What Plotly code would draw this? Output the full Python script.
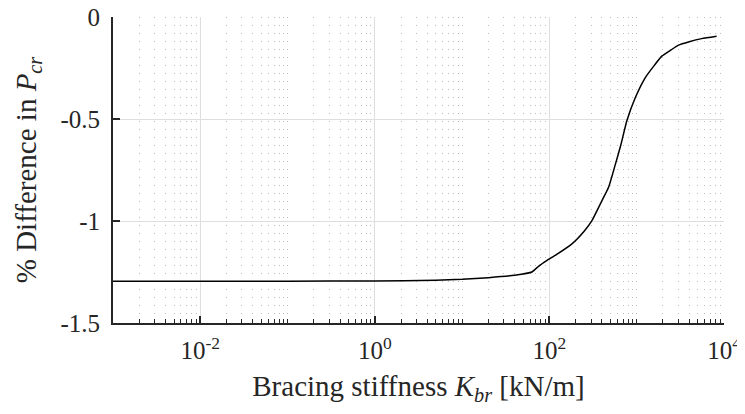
import plotly.graph_objects as go

# Data
k_br = [0.001, 0.01, 0.1, 1, 5, 10, 20, 40, 63, 75, 94, 120, 181, 250, 307, 400, 476, 567, 660, 771,
        962, 1250, 1600, 1937, 2500, 3006, 4000, 5546, 8225]
diff_pcr = [-1.295, -1.295, -1.295, -1.294, -1.290, -1.286, -1.278, -1.266, -1.250, -1.222, -1.193, -1.165,
            -1.112, -1.050, -0.998, -0.900, -0.835, -0.725, -0.625, -0.509, -0.396, -0.298, -0.236, -0.192,
            -0.160, -0.138, -0.121, -0.106, -0.094]

x_major = [1e-2, 1e0, 1e2, 1e4]
x_major_text = ["10<sup>-2</sup>", "10<sup>0</sup>", "10<sup>2</sup>", "10<sup>4</sup>"]
y_ticks = [0, -0.5, -1, -1.5]
y_tick_text = ["0", "-0.5", "-1", "-1.5"]

x_minor = []
for e in range(-3, 4):
    for m in range(1, 10):
        v = m * 10 ** e
        if v not in x_major:
            x_minor.append(v)

font_family = "Liberation Serif"
ink = "#262626"

fig = go.Figure()
fig.add_trace(go.Scatter(x=k_br, y=diff_pcr, mode="lines",
                         line=dict(color="black", width=1.5, shape="spline", smoothing=0.5),
                         showlegend=False))

fig.update_layout(
    width=737, height=398,
    margin=dict(l=105, r=21, t=9, b=83),
    paper_bgcolor="white", plot_bgcolor="white",
    font=dict(family=font_family, size=25, color=ink),
    xaxis=dict(
        type="log", range=[-3, 4], automargin=False,
        tickmode="array", tickvals=x_major, ticktext=x_major_text,
        ticks="inside", ticklen=7, tickwidth=1.5, tickcolor=ink,
        showline=True, linecolor=ink, linewidth=2,
        showgrid=True, gridcolor="#dedede", gridwidth=1,
        zeroline=False, ticklabelstandoff=4, ticklabeloverflow="allow",
        tickfont=dict(family=font_family, size=25, color=ink),
        minor=dict(tickmode="array", tickvals=x_minor, ticks="inside", ticklen=4,
                   tickcolor=ink, tickwidth=1,
                   showgrid=True, gridcolor="#bdbdbd", gridwidth=1, griddash="1px,7px"),
        title=dict(text="Bracing stiffness <i>K</i><sub><i>br</i></sub> [kN/m]",
                   font=dict(family=font_family, size=29, color=ink)),
    ),
    yaxis=dict(
        range=[-1.5, 0], automargin=False,
        tickmode="array", tickvals=y_ticks, ticktext=y_tick_text,
        ticks="inside", ticklen=7, tickwidth=1.5, tickcolor=ink,
        showline=True, linecolor=ink, linewidth=2,
        showgrid=True, gridcolor="#dedede", gridwidth=1,
        zeroline=False, ticklabelstandoff=6, ticklabeloverflow="allow",
        tickfont=dict(family=font_family, size=25, color=ink),
        title=dict(text="% Difference in <i>P</i><sub><i>cr</i></sub>",
                   font=dict(family=font_family, size=29, color=ink)),
    ),
)

fig.write_html("out.html")
